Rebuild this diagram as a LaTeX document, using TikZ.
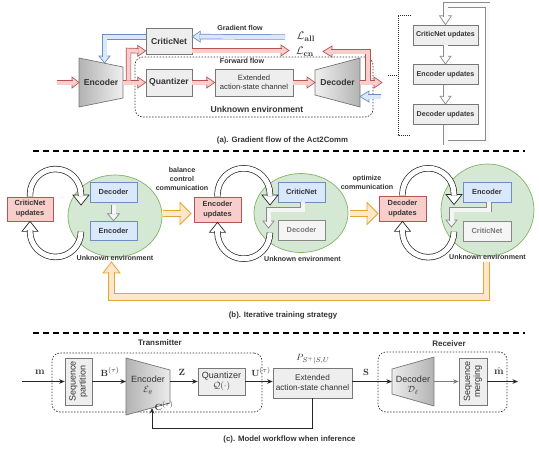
\documentclass[tikz,border=0pt]{standalone}
\usepackage[no-math]{fontspec}
\setmainfont{Liberation Sans}
\usepackage{graphicx}
\usetikzlibrary{calc,arrows.meta,shapes.geometric}

\definecolor{rfill}{HTML}{F8CECC}
\definecolor{rdraw}{HTML}{B85450}
\definecolor{bfill}{HTML}{DAE8FC}
\definecolor{bdraw}{HTML}{6C8EBF}
\definecolor{yfill}{HTML}{FFE6CC}
\definecolor{ydraw}{HTML}{E0A830}
\definecolor{gfill}{HTML}{D5E8D4}
\definecolor{gdraw}{HTML}{82B366}
\definecolor{boxfill}{HTML}{EEEEEE}
\definecolor{boxdraw}{HTML}{777777}
\definecolor{lfill}{HTML}{F5F5F5}
\definecolor{ldraw}{HTML}{888888}
\definecolor{ltext}{HTML}{777777}
\definecolor{txt}{HTML}{333333}
\definecolor{garr}{HTML}{8C8C8C}
\definecolor{garrfill}{HTML}{FAFAFA}

\newcommand\myfA{\fontsize{8.6}{10}\selectfont\bfseries}
\newcommand\myfS{\fontsize{7.1}{9}\selectfont\bfseries}
\newcommand\myfB{\fontsize{7.4}{10}\selectfont\bfseries}
\newcommand\myfCap{\fontsize{7.8}{9}\selectfont\bfseries}
\newcommand\myfX{\fontsize{7.6}{9.5}\selectfont}
\newcommand\myfD{\fontsize{9}{10.5}\selectfont}
\newcommand\myfT{\fontsize{8}{9}\selectfont\bfseries}

\newcommand\hhead[4]{\draw[#4] (#1) -- ($(#1)+(#2)+(#3)$) -- ($(#1)+(#2)-(#3)$) -- cycle;}
\newcommand\harr[5]{\hhead{#3}{#4}{#5}{#1head}\draw[#1shaft] #2 -- ($(#3)+0.88*(#4)$);}

\begin{document}
\begin{tikzpicture}[x=1pt,y=-1pt,
  every node/.style={inner sep=0pt, text=txt},
  abox/.style={draw=boxdraw, fill=boxfill, line width=0.7pt, align=center},
  rbox/.style={draw=rdraw, fill=rfill, line width=0.7pt, align=center},
  bbox/.style={draw=bdraw, fill=bfill, line width=0.7pt, align=center},
  lbox/.style={draw=ldraw, fill=lfill, line width=0.7pt, align=center, text=ltext},
  ell/.style={ellipse, draw=gdraw, fill=gfill, line width=0.7pt},
  trap/.style={draw=boxdraw, line width=0.7pt},
  envbox/.style={draw=black!80, line width=0.7pt, dash pattern=on 1.5pt off 1.5pt, rounded corners=8pt},
  dotline/.style={draw=black!85, line width=1pt, dash pattern=on 1pt off 1pt},
  sepline/.style={draw=black, line width=1.1pt, dash pattern=on 6pt off 4pt},
  carr/.style={draw=black!85, line width=0.8pt, -{Stealth[length=5.5pt,width=4.5pt]}},
  captxt/.style={font=\myfCap},
  redshaft/.style={draw=rdraw, double=rfill, double distance=4pt, line width=0.7pt},
  redhead/.style={draw=rdraw, fill=rfill, line width=0.7pt, line join=miter},
  blueshaft/.style={draw=bdraw, double=bfill, double distance=4pt, line width=0.7pt},
  bluehead/.style={draw=bdraw, fill=bfill, line width=0.7pt, line join=miter},
  grayshaft/.style={draw=garr, double=garrfill, double distance=4pt, line width=0.7pt},
  grayhead/.style={draw=garr, fill=garrfill, line width=0.7pt, line join=miter},
  lgrayshaft/.style={draw=ldraw, double=lfill, double distance=4pt, line width=0.7pt},
  lgrayhead/.style={draw=ldraw, fill=lfill, line width=0.7pt, line join=miter},
  whiteshaft/.style={draw=black!85, double=white, double distance=5pt, line width=0.7pt},
  whitehead/.style={draw=black!85, fill=white, line width=0.7pt, line join=miter},
  yelshaft/.style={draw=ydraw, double=yfill, double distance=5.5pt, line width=0.8pt},
  yelhead/.style={draw=ydraw, fill=yfill, line width=0.8pt, line join=miter}
]
\fill[white] (0,0) rectangle (539,451);
\useasboundingbox (0,0) rectangle (539,451);

% ================= (a) =================
\node[envbox, minimum width=238, minimum height=60] (env) at (254,87) {};
\node[font=\myfS] (fwd) at (242,61) {Forward flow};
\node[font=\myfA] (unk) at (257,109) {Unknown environment};

\node[abox, font=\myfA, minimum width=46, minimum height=26] (cn) at (169,41) {CriticNet};
\node[abox, font=\myfA, minimum width=46, minimum height=27] (qz) at (169,82.5) {Quantizer};
\node[abox, font=\myfX, minimum width=78, minimum height=27] (ext) at (254,82.5) {Extended\\action-state channel};

\draw[trap, left color=gray!60, right color=gray!12] (79,58) -- (123,67) -- (123,98) -- (79,107) -- cycle;
\node[font=\myfA] (enc) at (101,82.5) {Encoder};
\coordinate (encW) at (79,82.5);
\coordinate (encE) at (123,82.5);
\draw[trap, left color=gray!12, right color=gray!60] (315,70) -- (360,58) -- (360,107) -- (315,95) -- cycle;
\node[font=\myfA] (dec) at (337.5,82.5) {Decoder};
\coordinate (decW) at (315,82.5);
\coordinate (decE) at (360,82.5);

\coordinate (t3) at ($(cn.south west)+(0,-3.5)$);
\coordinate (t4) at (104.5,63);
\coordinate (t5) at ($(cn.north east)+(0,9)$);
\coordinate (t6) at (289,50.5);
\coordinate (t9) at (382,82.5);
\coordinate (t10) at (323,51.5);
\coordinate (t11) at ($(decE)+(0,14)$);

\node[font=\fontsize{11}{12}\selectfont] (lall) at (306,37) {$\mathcal{L}_{\mathbf{all}}$};
\node[font=\fontsize{11}{12}\selectfont] (lcn) at (305,51.5) {$\mathcal{L}_{\mathbf{cn}}$};
\node[font=\myfS] (gf) at (240,28) {Gradient flow};

\harr{red}{(57,82.5)}{encW}{-7,0}{0,5.5}
\harr{red}{(encE)}{qz.west}{-8,0}{0,5.5}
\harr{red}{(128.5,80.5) -- (128.5,50.5)}{t3}{-8,0}{0,5.5}
\harr{blue}{($(cn.west)+(0,-4)$) -- (104.5,37)}{t4}{0,-7}{5.5,0}
\harr{blue}{(285,37)}{t5}{8,0}{0,5.5}
\harr{red}{($(cn.east)+(0,9.5)$)}{t6}{-8,0}{0,5.5}
\harr{red}{(qz.east)}{ext.west}{-8,0}{0,5.5}
\harr{red}{(ext.east)}{decW}{-8,0}{0,5.5}
\harr{red}{(decE)}{t9}{-8,0}{0,5.5}
\harr{red}{(368,80.5) -- (368,51.5)}{t10}{9,0}{0,5.5}
\harr{blue}{(381,96.5)}{t11}{9,0}{0,5.5}

% right panel
\node[abox, font=\myfS, minimum width=65, minimum height=20] (cu) at (445.5,35) {CriticNet updates};
\node[abox, font=\myfS, minimum width=65, minimum height=20] (eu) at (445.5,74.5) {Encoder updates};
\node[abox, font=\myfS, minimum width=65, minimum height=20] (du) at (445.5,114.5) {Decoder updates};
\harr{gray}{(cu.south)}{eu.north}{0,-8}{5.5,0}
\harr{gray}{(eu.south)}{du.north}{0,-8}{5.5,0}
\harr{gray}{(du.south) -- (445.5,142.5) -- (487.5,142.5) -- (487.5,5) -- (445.5,5)}{cu.north}{0,-9}{6,0}
\draw[dotline] (411,15) -- (398,15) -- (398,135) -- (411,135);
\draw[dotline] (388,75) -- (398,75);

\node[captxt] (capa) at (282.5,140) {(a). Gradient flow of the Act2Comm};
\draw[sepline] (33,151) -- (525,151);

% ================= (b) =================
\node[ell, minimum width=94, minimum height=82] (E1) at (115,216) {};
\node[ell, minimum width=94, minimum height=79] (E2) at (301,213) {};
\node[ell, minimum width=93, minimum height=92] (E3) at (487.5,210) {};

\node[rbox, font=\myfB, minimum width=46, minimum height=24] (red1) at (30,209) {CriticNet\\updates};
\node[rbox, font=\myfB, minimum width=47, minimum height=25] (red2) at (217.5,209.5) {Encoder\\updates};
\node[rbox, font=\myfB, minimum width=47, minimum height=25] (red3) at (402.5,208.5) {Decoder\\updates};

\node[bbox, font=\myfB, minimum width=47, minimum height=20] (b1dec) at (113.5,192) {Decoder};
\node[bbox, font=\myfB, minimum width=47, minimum height=19] (b1enc) at (113.5,230.5) {Encoder};
\node[bbox, font=\myfB, minimum width=47, minimum height=20] (b2cn) at (301.5,192) {CriticNet};
\node[lbox, font=\myfB, minimum width=47, minimum height=20] (b2dec) at (301.5,230) {Decoder};
\node[bbox, font=\myfB, minimum width=48, minimum height=20] (b3enc) at (487,192) {Encoder};
\node[lbox, font=\myfB, minimum width=48, minimum height=20] (b3cn) at (487,231) {CriticNet};

\harr{lgray}{($(b1dec.south)+(0,3)$)}{b1enc.north}{0,-7}{6,0}
\harr{lgray}{($(b2cn.south)+(1,0)$) -- (302.5,209.5) -- (268.5,209.5)}{268.5,228}{0,-7}{5.5,0}
\harr{lgray}{($(b3enc.south)+(2,0)$) -- (489,209.5) -- (451.5,209.5)}{451.5,227}{0,-7}{5.5,0}

\node[font=\myfS] (u1) at (115,258) {Unknown environment};
\node[font=\myfS] (u2) at (302.5,259) {Unknown environment};
\node[font=\myfS] (u3) at (487.5,257) {Unknown environment};

% loops box 1
\hhead{81,205}{0,-10}{8,0}{whitehead}
\draw[whiteshaft] (red1.north) -- (30,194.5) .. controls (30,180.42) and (41.42,169) .. (55.5,169) .. controls (69.58,169) and (81,180.42) .. (81,194.5) -- (81,196);
\hhead{red1.south}{0,10}{8,0}{whitehead}
\draw[whiteshaft] (81,231.5) .. controls (81,245.58) and (69.58,257) .. (55.5,257) .. controls (41.42,257) and (30,245.58) .. (30,231.5) -- (30,230);
% loops box 2
\hhead{270,205}{0,-10}{8,0}{whitehead}
\draw[whiteshaft] (red2.north) -- (217.5,194.5) .. controls (217.5,180) and (229.25,168.25) .. (243.75,168.25) .. controls (258.25,168.25) and (270,180) .. (270,194.5) -- (270,196);
\hhead{red2.south}{0,10}{8,0}{whitehead}
\draw[whiteshaft] (270,232.5) .. controls (270,247) and (258.25,258.75) .. (243.75,258.75) .. controls (229.25,258.75) and (217.5,247) .. (217.5,232.5) -- (217.5,231);
% loops box 3
\hhead{454,204.5}{0,-10}{8,0}{whitehead}
\draw[whiteshaft] (red3.north) -- (402.5,194) .. controls (402.5,179.78) and (414.03,168.25) .. (428.25,168.25) .. controls (442.47,168.25) and (454,179.78) .. (454,194) -- (454,195.5);
\hhead{red3.south}{0,10}{8,0}{whitehead}
\draw[whiteshaft] (454,231.5) .. controls (454,245.72) and (442.47,257.25) .. (428.25,257.25) .. controls (414.03,257.25) and (402.5,245.72) .. (402.5,231.5) -- (402.5,230);

% yellow arrows
\harr{yel}{(163,213.5)}{191,213.5}{-11,0}{0,11}
\harr{yel}{(350,213.5)}{378,213.5}{-11,0}{0,11}
\harr{yel}{(486.5,262) -- (486.5,297) -- (111.5,297)}{111.5,262}{0,11}{8.5,0}

\node[font=\myfS, align=center] (bal) at (182,179) {balance\\control\\communication};
\node[font=\myfS, align=center] (opt) at (367,182.5) {optimize\\communication};

\node[captxt] (capb) at (283,315) {(b). Iterative training strategy};
\draw[sepline] (33,333) -- (525,333);

% ================= (c) =================
\node[envbox, minimum width=210, minimum height=59] (tx) at (157,382.5) {};
\node[envbox, minimum width=129, minimum height=60] (rx) at (442.5,382) {};
\node[font=\myfT] (ltx) at (160,343) {Transmitter};
\node[font=\myfT] (lrx) at (449,344) {Receiver};

\node[abox, font=\myfD, minimum width=27, minimum height=47] (sp) at (78.5,381.5)
  {\rotatebox{90}{\begin{tabular}{@{}c@{}}Sequence\\[-0.5pt]partition\end{tabular}}};
\node[abox, font=\myfD, minimum width=28, minimum height=47] (sm) at (473,381.5)
  {\rotatebox{90}{\begin{tabular}{@{}c@{}}Sequence\\[-0.5pt]merging\end{tabular}}};
\node[abox, font=\myfD, minimum width=47, minimum height=27] (qc) at (221.5,381.5) {Quantizer\\$\mathcal{Q}(\cdot)$};
\node[abox, font=\fontsize{8.2}{10}\selectfont, minimum width=79, minimum height=30] (xc) at (312.5,383) {Extended\\action-state channel};

\draw[trap, left color=gray!60, right color=gray!15] (126,358) -- (170,370) -- (170,403) -- (126,415) -- cycle;
\node[font=\myfD, align=center] (encc) at (148,385) {Encoder\\$\mathcal{E}_\theta$};
\draw[trap, left color=gray!15, right color=gray!60] (392,369) -- (434,357) -- (434,406) -- (392,394) -- cycle;
\node[font=\myfD, align=center] (decc) at (413,385) {Decoder\\$\mathcal{D}_\ell$};

\coordinate (cin) at (22,381.5);
\coordinate (cout) at (518,381.5);
\coordinate (ceW) at (126,381.5);
\coordinate (ceE) at (170,381.5);
\coordinate (ceB) at (152,408);
\coordinate (cdW) at (392,381.5);
\coordinate (cdE) at (434,381.5);

\draw[carr] (cin) -- (sp.west);
\draw[carr] (sp.east) -- (ceW);
\draw[carr] (ceE) -- (qc.west);
\draw[carr] (qc.east) -- (qc.east -| xc.west);
\draw[carr] (xc.east |- cdW) -- (cdW);
\draw[carr, draw=gray] (cdE) -- (sm.west);
\draw[carr] (sm.east) -- (cout);
\draw[carr] (xc.south) -- (312.5,428) -- (152,428) -- (ceB);

\node[font=\fontsize{10}{12}\selectfont] (lm) at (40,372) {$\mathbf{m}$};
\node[font=\fontsize{9.5}{11}\selectfont] (lb) at (110,372) {$\mathbf{B}^{(\tau)}$};
\node[font=\fontsize{9.5}{11}\selectfont] (lz) at (182,372) {$\mathbf{Z}$};
\node[font=\fontsize{9.5}{11}\selectfont] (lu) at (261,372) {$\mathbf{U}^{(\tau)}$};
\node[font=\fontsize{9.5}{11}\selectfont] (lc) at (164,406) {$\mathbf{C}^{(\tau)}$};
\node[font=\fontsize{9.5}{11}\selectfont] (lp) at (313,359) {$P_{S^+|S,U}$};
\node[font=\fontsize{9.5}{11}\selectfont] (ls) at (366,372) {$\mathbf{S}$};
\node[font=\fontsize{10}{12}\selectfont] (lmh) at (499,371) {$\hat{\mathbf{m}}$};

\node[captxt] (capc) at (289.5,439) {(c). Model workflow when inference};
\end{tikzpicture}
\end{document}
